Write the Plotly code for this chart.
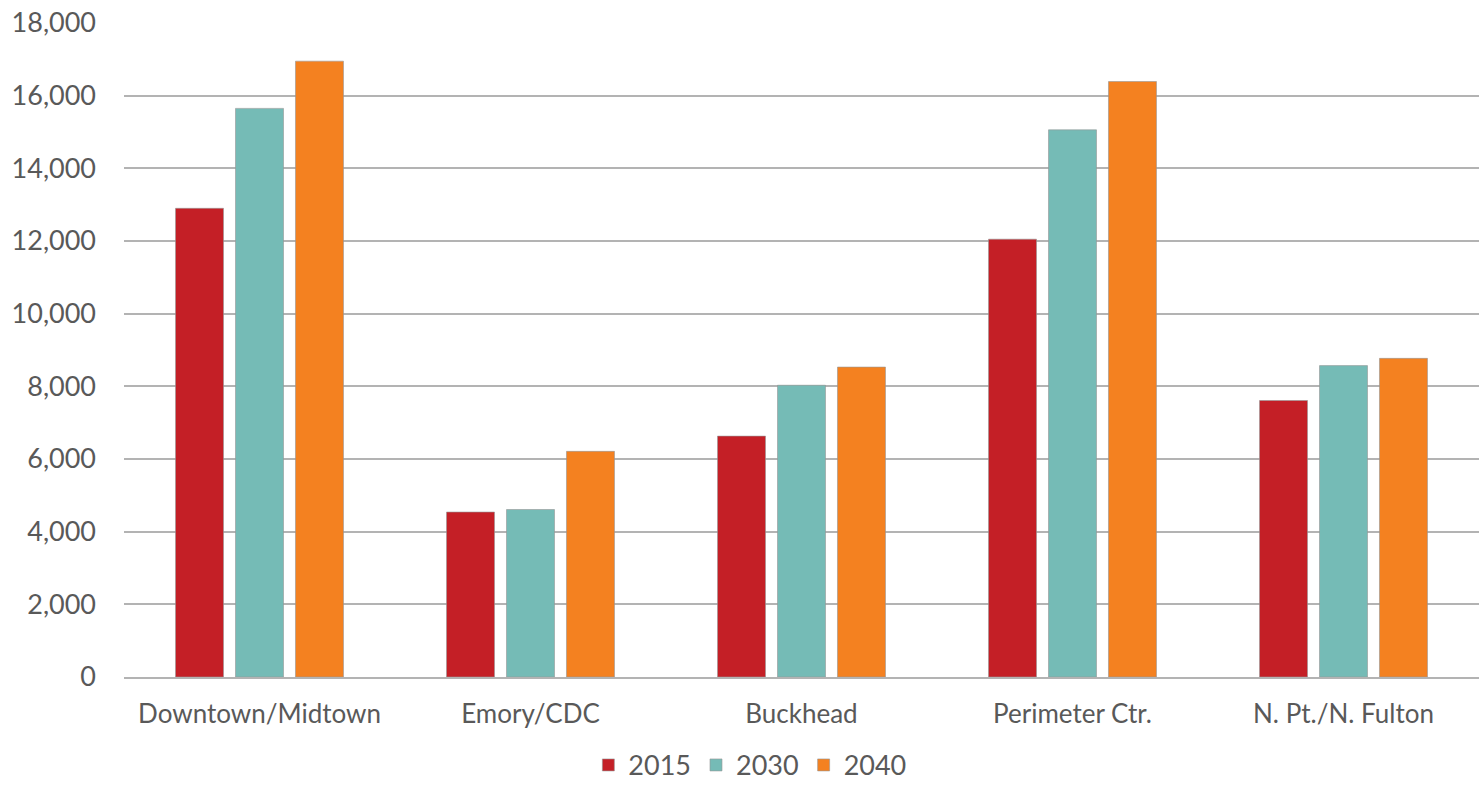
import plotly.graph_objects as go

categories = ["Downtown/Midtown", "Emory/CDC", "Buckhead", "Perimeter Ctr.", "N. Pt./N. Fulton"]
v2015 = [12900, 4540, 6630, 12050, 7610]
v2030 = [15650, 4610, 8030, 15060, 8570]
v2040 = [16950, 6210, 8530, 16390, 8770]
series_names = ["2015", "2030", "2040"]
colors = ["#C41F26", "#75BBB6", "#F48120"]
yticks = [0, 2000, 4000, 6000, 8000, 10000, 12000, 14000, 16000, 18000]

font_family = "Lato, 'Open Sans', sans-serif"
text_color = "#595959"

fig = go.Figure()
for name, vals, col in zip(series_names, [v2015, v2030, v2040], colors):
    fig.add_trace(go.Bar(
        x=categories, y=vals, name=name,
        marker=dict(color=col, line=dict(color="rgba(150,150,150,0.6)", width=1)),
    ))

fig.update_layout(
    width=1479, height=785,
    margin=dict(l=124, r=0, t=23, b=108),
    paper_bgcolor="white", plot_bgcolor="white",
    barmode="group", bargap=0.336, bargroupgap=0.2,
    font=dict(family=font_family, size=26, color=text_color),
    showlegend=True,
    legend=dict(orientation="h", xref="container", yref="container",
                x=0.507, xanchor="center", y=0.025, yanchor="middle",
                font=dict(size=27, color=text_color), itemwidth=30,
                traceorder="normal"),
    xaxis=dict(showgrid=False, showline=True, linecolor="#b3b3b3", linewidth=2,
               ticks="", ticklabelstandoff=13, tickfont=dict(size=26, color=text_color)),
    yaxis=dict(range=[0, 18000], tickvals=yticks, tickformat=",d",
               showgrid=True, gridcolor="#b3b3b3", gridwidth=2,
               zeroline=False, showline=False, ticks="",
               ticklabelstandoff=27, tickfont=dict(size=27, color=text_color)),
)

fig.write_html("out.html")
